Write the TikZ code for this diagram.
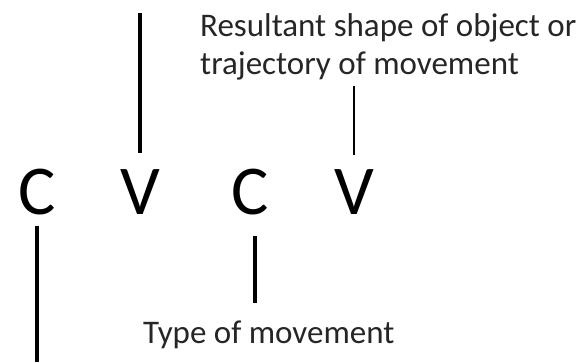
\documentclass[tikz,border=0pt]{standalone}
\usepackage{fontspec}
\setmainfont{Carlito}
\usepackage{tikz}
\usetikzlibrary{positioning, calc}
\tikzset{
  syl/.style={inner sep=0pt, anchor=base, font=\fontsize{70}{84}\selectfont},
  note/.style={inner sep=0pt, align=left, text=black!85, font=\fontsize{33}{38}\selectfont},
  tick/.style={line width=3.5pt},
  thintick/.style={line width=2.5pt}
}
\begin{document}
\begin{tikzpicture}[x=1pt, y=1pt]
  \useasboundingbox (0,0) rectangle (579,362);
  % sylaby
  \node[syl] (C1) at (37,147) {C};
  \node[syl] (V1) at (140,147) {V};
  \node[syl] (C2) at (250,147) {C};
  \node[syl] (V2) at (354,147) {V};
  % opisy
  \node[note, anchor=base west] (shape) at (200,287) {Resultant shape of object or\\trajectory of movement};
  \node[note, anchor=base west] (type) at (143,19) {Type of movement};
  % wolne konce
  \coordinate (v1top) at (140,349);
  \coordinate (c1bot) at (37,0);
  % kreski
  \draw[tick, shorten <=17pt] (V1.north) -- (v1top);
  \draw[thintick, shorten <=15pt, shorten >=5pt] (V2.north) -- (V2.north |- shape.south);
  \draw[tick, shorten <=10pt] (C1.south) -- (c1bot);
  \draw[tick, shorten <=20pt, shorten >=17pt] ([xshift=5pt]C2.south) -- ([xshift=5pt]C2.south |- type.north);
\end{tikzpicture}
\end{document}
